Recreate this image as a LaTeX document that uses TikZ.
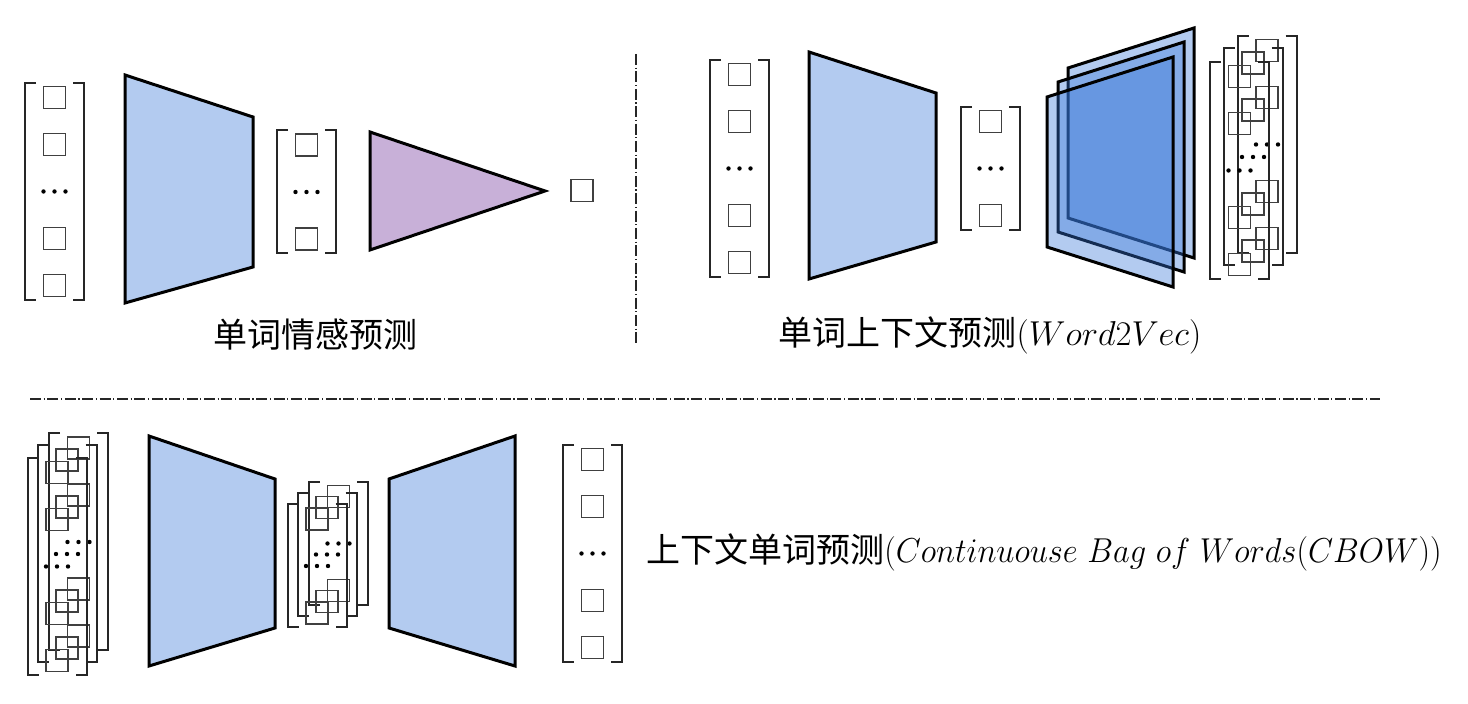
\documentclass[tikz,border=0pt]{standalone}
\usepackage{fontspec}
\usepackage{graphicx}
\newfontfamily\cjk{Noto Sans CJK SC}
\definecolor{trap}{RGB}{179,203,240}
\definecolor{tri}{RGB}{200,176,216}
\definecolor{plane}{RGB}{55,118,216}
\tikzset{
  brk/.style={line width=1pt, draw=black!85},
  cell/.style={line width=0.6pt, draw=black!75},
  enc/.style={line width=1.5pt, line join=miter, draw=black, fill=trap},
  clf/.style={line width=1.5pt, line join=miter, draw=black, fill=tri},
  layer/.style={line width=1.5pt, line join=miter, draw=black, fill=plane, fill opacity=0.38},
  dashdot/.style={line width=0.7pt, draw=black!85, dash pattern=on 5.5pt off 1.3pt on 0.6pt off 1.3pt},
  lbl/.style={inner sep=0pt, font=\fontsize{17}{20}\selectfont}
}
\newcommand\VBox[2]{\draw[cell] ({#1-11},{#2-11}) rectangle ({#1+11},{#2+11});}
\newcommand\VDots[2]{\fill ({#1-11},{#2}) circle (1.1pt) ({#1},{#2}) circle (1.1pt) ({#1+11},{#2}) circle (1.1pt);}
\newcommand\VBrackets[3]{%
  \draw[brk] ({#1-18.5},{#2-#3}) -- ({#1-29.5},{#2-#3}) -- ({#1-29.5},{#2+#3}) -- ({#1-18.5},{#2+#3});
  \draw[brk] ({#1+18.5},{#2-#3}) -- ({#1+29.5},{#2-#3}) -- ({#1+29.5},{#2+#3}) -- ({#1+18.5},{#2+#3});}
\newcommand\VecFive[2]{\VBrackets{#1}{#2}{108.5}\VBox{#1}{#2-94}\VBox{#1}{#2-47}\VDots{#1}{#2}\VBox{#1}{#2+47}\VBox{#1}{#2+94}}
\newcommand\VecThree[2]{\VBrackets{#1}{#2}{61.5}\VBox{#1}{#2-47}\VDots{#1}{#2}\VBox{#1}{#2+47}}
\newcommand\Plane[2]{\filldraw[layer] (#1,{#2-75}) -- ({#1+126},{#2-115}) -- ({#1+126},{#2+115}) -- (#1,{#2+75}) -- cycle;}
\begin{document}
\begin{tikzpicture}[x=0.5pt,y=-0.5pt]
\useasboundingbox (0,0) rectangle (1468,704);
% ---------- top left: word sentiment ----------
\VecFive{54.5}{191.5}
\filldraw[enc] (125,75) -- (253,117) -- (253,267) -- (125,303) -- cycle;
\VecThree{306.5}{192}
\filldraw[clf] (370,132) -- (545,191) -- (370,250) -- cycle;
\VBox{582}{190.5}
\node[lbl] (t1) at (315,335) {\cjk 单词情感预测};
% separators
\coordinate (v1) at (636,54);
\coordinate (v2) at (636,343);
\draw[dashdot] (v1) -- (v2);
\coordinate (h1) at (30,399);
\coordinate (h2) at (1380,399);
\draw[dashdot] (h1) -- (h2);
% ---------- top right: Word2Vec ----------
\VecFive{739.5}{168.5}
\filldraw[enc] (809,52) -- (936,93) -- (936,242) -- (809,279) -- cycle;
\VecThree{990.5}{168.5}
\Plane{1068}{143}
\Plane{1058}{157}
\Plane{1047}{172}
\VecFive{1267}{144.5}
\VecFive{1253}{157}
\VecFive{1239.5}{170.5}
\node[lbl] (t2) at (990,335) {{\cjk 单词上下文预测}$(Word2Vec)$};
% ---------- bottom: CBOW ----------
\VecFive{78.5}{542}
\VecFive{67}{554}
\VecFive{57}{566.5}
\filldraw[enc] (149,436) -- (275,479) -- (275,628) -- (149,666) -- cycle;
\VecThree{338.5}{543.5}
\VecThree{327}{554.5}
\VecThree{317}{566}
\filldraw[enc] (389,479) -- (515,436) -- (515,666) -- (389,628) -- cycle;
\VecFive{592.5}{553.5}
\node[lbl, anchor=west] (t3) at (646,552) {{\cjk 上下文单词预测}\scalebox{0.94}[1]{$(Continuouse\ Bag\ of\ Words(CBOW))$}};
\end{tikzpicture}
\end{document}
